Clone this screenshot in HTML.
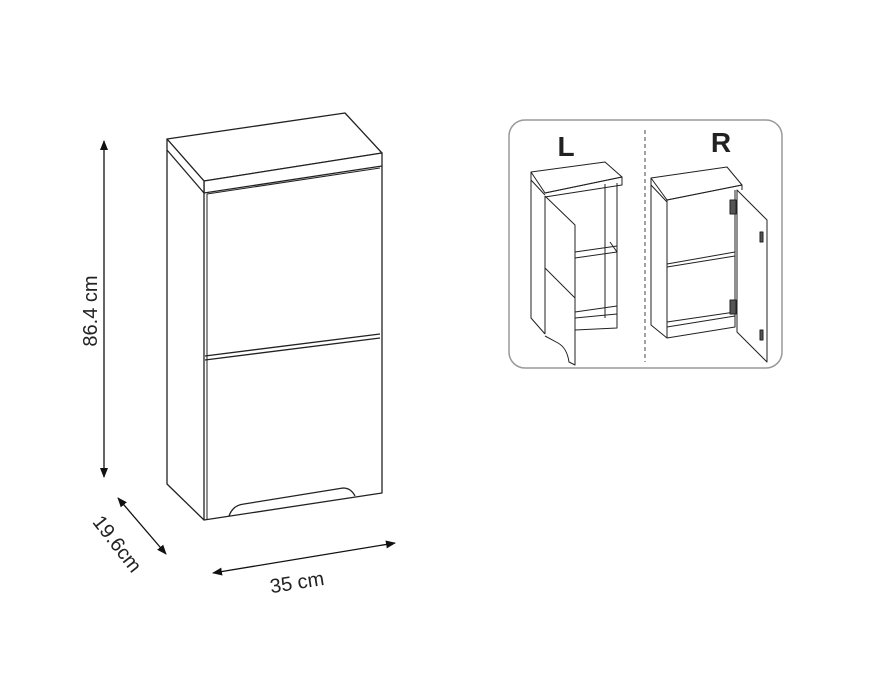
<!DOCTYPE html>
<html><head><meta charset="utf-8"><style>
html,body{margin:0;padding:0;background:#fff;}
svg{display:block;}
text{font-family:"Liberation Sans",sans-serif;fill:#222;}
</style></head><body>
<svg width="882" height="685" viewBox="0 0 882 685" xmlns="http://www.w3.org/2000/svg">
<defs>
<marker id="ah" viewBox="0 0 10 10" refX="9" refY="5" markerWidth="10" markerHeight="10" orient="auto-start-reverse" markerUnits="userSpaceOnUse">
<path d="M0,1 L10,5 L0,9 Z" fill="#111"/></marker>
</defs>
<g fill="none" stroke="#222" stroke-width="1.3" stroke-linejoin="round">
<path d="M167,139 L345,113 L382,153 L204,181 Z" fill="#fff"/>
<path d="M204,181 L382,153 L382,166 L204,193 Z" fill="#fff"/>
<path d="M167,139 L204,181 L204,193 L167,150 Z" fill="#fff"/>
<path d="M167,150 L167,484 L204,520"/>
<path d="M204,193 L204,520 L382,493 L382,166"/>
<path d="M207,194 L207,519" stroke-width="1"/>
<path d="M207,194 L380,168" stroke-width="1"/>
<path d="M205,356 L380,334 M205,360 L380,338" stroke-width="1.3"/>
<path d="M229,516 Q233,505 244,504 L343,488 Q351,488 355,496"/>
<line x1="104" y1="141" x2="104" y2="477" stroke="#111" marker-start="url(#ah)" marker-end="url(#ah)"/>
<line x1="118" y1="498" x2="166" y2="554" stroke="#111" marker-start="url(#ah)" marker-end="url(#ah)"/>
<line x1="213" y1="573" x2="395" y2="543" stroke="#111" marker-start="url(#ah)" marker-end="url(#ah)"/>
<rect x="509" y="120" width="273" height="248" rx="16" stroke="#999" stroke-width="1.5"/>
<line x1="645" y1="130" x2="645" y2="362" stroke="#444" stroke-width="1" stroke-dasharray="4,3"/>
<g stroke-width="1">
<path d="M531,172 L605,162 L622,177 L545,193 Z" fill="#fff"/>
<path d="M531,172 L531,180 L545,195 M545,193 L622,177 L622,185 L545,197"/>
<path d="M531,180 L531,318 L545,334"/>
<path d="M545,196 L545,334 M545,196 L575,225 L575,365 L569,362 Q567,348 558,343 L545,336"/>
<path d="M545,268 L575,298"/>
<path d="M605,184 L605,318 M617,183 L617,328 L575,330 M575,252 L617,246 M575,258 L617,252 L610,242 M575,312 L617,306 M575,318 L617,314"/>
</g>
<g stroke-width="1">
<path d="M651,178 L727,167 L742,185 L667,200 Z" fill="#fff"/>
<path d="M651,178 L651,185 L667,202 M667,200 L742,185 L742,190"/>
<path d="M651,185 L651,325 L667,338 M667,200 L667,338 L735,327 L735,190"/>
<path d="M667,264 L735,252 M667,267 L735,256 M667,322 L735,312 M667,327 L735,316"/>
<path d="M737,190 L767,220 L767,362 L737,332 Z" fill="#fff"/>
<path d="M730,200 h6 v14 h-6 Z M730,300 h6 v14 h-6 Z M760,232 h3 v10 h-3 Z M760,330 h3 v10 h-3 Z" fill="#555"/>
</g>
</g>
<text x="0" y="0" font-size="20" text-anchor="middle" transform="translate(97,311) rotate(-90)">86.4 cm</text>
<text x="0" y="0" font-size="20" text-anchor="middle" transform="translate(112,548) rotate(52)">19.6cm</text>
<text x="0" y="0" font-size="20" text-anchor="middle" transform="translate(298,589) rotate(-9)">35 cm</text>
<text x="566" y="156" font-size="28" font-weight="bold" text-anchor="middle" fill="#111">L</text>
<text x="721" y="152" font-size="28" font-weight="bold" text-anchor="middle" fill="#111">R</text>
</svg>
</body></html>
